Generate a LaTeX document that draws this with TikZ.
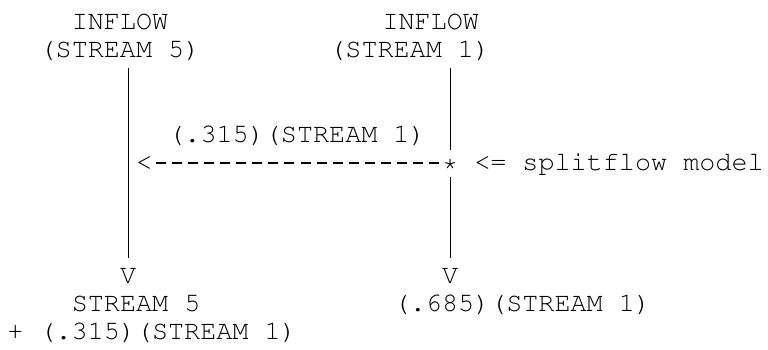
\documentclass[tikz,border=0pt]{standalone}
\usepackage[T1]{fontenc}
\usepackage{courier}
\tikzset{
    ascii/.style={font=\fontsize{13.4pt}{14pt}\selectfont\ttfamily, inner sep=0pt, text height=7.5pt, text depth=0pt, anchor=west},
    flowbar/.style={line width=0.6pt},
    splitdash/.style={line width=0.6pt, dash pattern=on 5pt off 3.05pt, dash phase=6.55pt}
}
\begin{document}
\begin{tikzpicture}[x=8.05pt,y=-14.1pt]
    \useasboundingbox (-0.435,-0.78) rectangle (47.27,11.6);

    % one unit = one character cell, one row = one text line
    \node[ascii] (inflowA) at (4,0) {INFLOW};
    \node[ascii] (inA) at (2,1) {(STREAM 5)};
    \node[ascii] (inflowB) at (23.3,0) {INFLOW};
    \node[ascii] (inB) at (20,1) {(STREAM 1)};

    \node[ascii] (share) at (10,4) {(.315)(STREAM 1)};
    \node[ascii] (tip) at (8,5) {<};
    \node[ascii] (split) at (27,5) {*};
    \node[ascii] (note) at (29,5) {<= splitflow model};

    \node[ascii] (vA) at (7,9) {V};
    \node[ascii] (vB) at (27,9) {V};
    \node[ascii] (outA) at (4,10) {STREAM 5};
    \node[ascii] (outAplus) at (0,11) {+ (.315)(STREAM 1)};
    \node[ascii] (outB) at (24,10) {(.685)(STREAM 1)};

    \draw[flowbar, shorten <=5pt, shorten >=5pt] (vA |- inA.south) -- (vA.north);
    \draw[flowbar, shorten <=5pt, shorten >=2.5pt] (split |- inB.south) -- (split.north);
    \draw[flowbar, shorten <=3pt, shorten >=5pt] (split.south) -- (vB.north);
    \draw[splitdash] (tip.east) -- (split.west);

\end{tikzpicture}
\end{document}
